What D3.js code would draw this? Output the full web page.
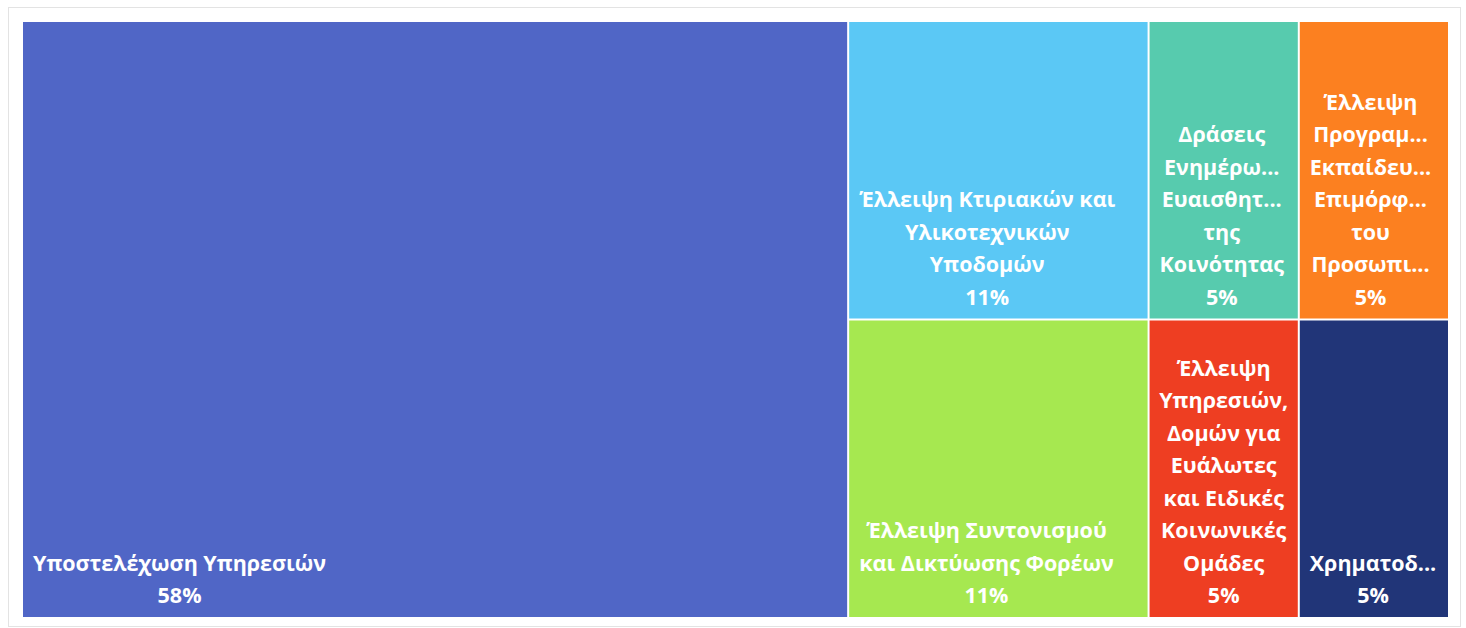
<!DOCTYPE html>
<html>
<head>
<meta charset="utf-8">
<script src="https://cdn.jsdelivr.net/npm/d3@7"></script>
<style>
  html, body { margin: 0; padding: 0; background: #ffffff; }
  svg { display: block; }
</style>
</head>
<body>
<svg id="chart" width="1466" height="628"></svg>
<script>
// ---- data ----
const categories = [
  "Υποστελέχωση Υπηρεσιών",
  "Έλλειψη Κτιριακών και Υλικοτεχνικών Υποδομών",
  "Έλλειψη Συντονισμού και Δικτύωσης Φορέων",
  "Δράσεις Ενημέρωσης Ευαισθητοποίησης της Κοινότητας",
  "Έλλειψη Υπηρεσιών, Δομών για Ευάλωτες και Ειδικές Κοινωνικές Ομάδες",
  "Έλλειψη Προγραμμάτων Εκπαίδευσης Επιμόρφωσης του Προσωπικού",
  "Χρηματοδότηση"
];
const values = [11, 2, 2, 1, 1, 1, 1];
const percentLabels = ["58%", "11%", "11%", "5%", "5%", "5%", "5%"];
const columnIndex = [0, 1, 1, 2, 2, 3, 3];
const displayLines = [
  ["Υποστελέχωση Υπηρεσιών"],
  ["Έλλειψη Κτιριακών και", "Υλικοτεχνικών", "Υποδομών"],
  ["Έλλειψη Συντονισμού", "και Δικτύωσης Φορέων"],
  ["Δράσεις", "Ενημέρω...", "Ευαισθητ...", "της", "Κοινότητας"],
  ["Έλλειψη", "Υπηρεσιών,", "Δομών για", "Ευάλωτες", "και Ειδικές", "Κοινωνικές", "Ομάδες"],
  ["Έλλειψη", "Προγραμ...", "Εκπαίδευ...", "Επιμόρφ...", "του", "Προσωπι..."],
  ["Χρηματοδ..."]
];
const colors = ["#5066C6", "#5BC8F5", "#A6E850", "#57CBAE", "#EE3E22", "#FC8020", "#213578"];

// ---- layout ----
const svg = d3.select("#chart");
const area = { x0: 23, y0: 22, x1: 1448, y1: 617 };

// outer frame
svg.append("rect")
  .attr("x", 8.5).attr("y", 7.5)
  .attr("width", 1452).attr("height", 619)
  .attr("fill", "#ffffff")
  .attr("stroke", "#e3e3e3").attr("stroke-width", 1);

const groups = d3.groups(categories.map((c, i) => ({ i, name: c, value: values[i] })), d => columnIndex[d.i]);
const rootData = { children: groups.map(([k, items]) => ({ children: items })) };
const root = d3.hierarchy(rootData).sum(d => d.value || 0);

d3.treemap()
  .tile(d3.treemapSliceDice)
  .size([area.x1 - area.x0 + 2, area.y1 - area.y0 + 2])
  .paddingInner(0)
  (root);

const leaves = root.leaves();
const g = svg.append("g").attr("transform", `translate(${area.x0 - 1},${area.y0 - 1})`);

const cell = g.selectAll("g.cell").data(leaves).join("g").attr("class", "cell");

cell.append("rect")
  .attr("x", d => d.x0 + 1)
  .attr("y", d => d.y0 + 1)
  .attr("width", d => d.x1 - d.x0 - 2)
  .attr("height", d => d.y1 - d.y0 - 2)
  .attr("fill", d => colors[d.data.i]);

const lineH = 32.5;
const fontSize = 21.5;
const pad = 11;
cell.each(function(d) {
  const i = d.data.i;
  const lines = displayLines[i].concat([percentLabels[i]]);
  const sel = d3.select(this);
  const t = sel.append("text")
    .attr("fill", "#ffffff")
    .attr("font-family", "'Open Sans', 'Noto Sans', sans-serif")
    .attr("font-weight", "bold")
    .attr("font-size", fontSize)
    .attr("text-anchor", "middle");
  const lastBaseline = d.y1 - 15;
  const spans = lines.map((ln, k) =>
    t.append("tspan")
      .attr("y", lastBaseline - (lines.length - 1 - k) * lineH)
      .text(ln));
  // label block anchored at the bottom-left, lines centred within the block
  const maxW = d3.max(spans, s => s.node().getComputedTextLength());
  const cx = Math.min(d.x0 + pad + maxW / 2, (d.x0 + d.x1) / 2);
  spans.forEach(s => s.attr("x", cx));
});
</script>
</body>
</html>
